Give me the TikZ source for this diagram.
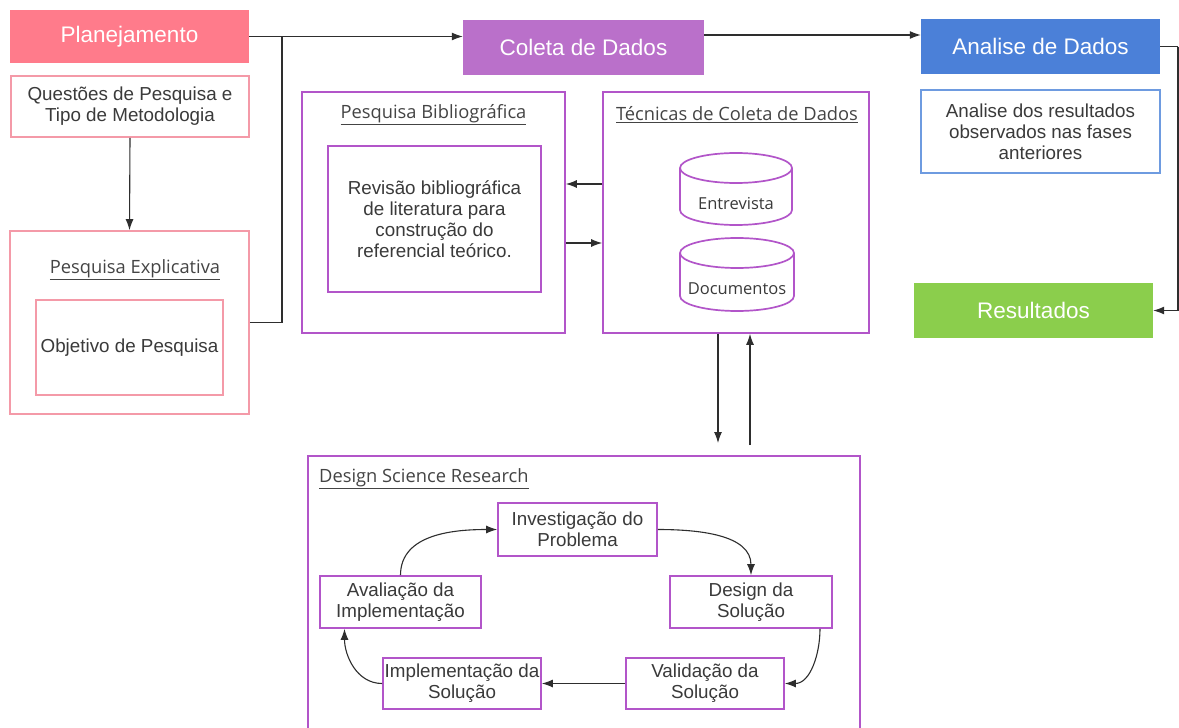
\documentclass[tikz,border=0pt]{standalone}
\usepackage{fontspec}
\setmainfont{Liberation Sans}
\newfontfamily\osans{Open Sans}
\usetikzlibrary{arrows.meta}
\definecolor{pinkfill}{HTML}{FF7B8B}
\definecolor{pinkline}{HTML}{F49AA8}
\definecolor{purpfill}{HTML}{BA70CA}
\definecolor{purpline}{HTML}{B255C9}
\definecolor{bluefill}{HTML}{4B80D8}
\definecolor{blueline}{HTML}{6E9BE0}
\definecolor{greenfill}{HTML}{8BCE4C}
\definecolor{txt}{HTML}{3A3A3A}
\definecolor{ttl}{HTML}{444444}
\definecolor{conn}{HTML}{2E2E2E}
\begin{document}
\begin{tikzpicture}[x=1pt,y=-1pt,
  hdr/.style={inner sep=0pt, text=white, font=\fontsize{22.5}{26}\selectfont},
  box/.style={draw, line width=1.7pt, inner sep=0pt, align=center, text=txt, font=\fontsize{18.8}{21}\selectfont},
  pinkbox/.style={box, draw=pinkline},
  purpbox/.style={box, draw=purpline},
  bluebox/.style={box, draw=blueline},
  ttlnode/.style={inner sep=0pt, text=ttl, font=\osans\fontsize{18.3}{21}\selectfont},
  cyl/.style={draw=purpline, line width=1.7pt},
  cyltext/.style={inner sep=0pt, text=txt, font=\osans\fontsize{16.5}{20}\selectfont},
  arr/.style={draw=conn, line width=1.1pt, -{Latex[length=11pt,width=8pt]}},
  ln/.style={draw=conn, line width=1.1pt}
]
\useasboundingbox (0,0) rectangle (1179,728);
\clip (0,0) rectangle (1179,728);
\fill[white] (0,0) rectangle (1179,728);

% Planejamento column
\node[hdr, fill=pinkfill, minimum width=239, minimum height=53] (plan) at (129.5,36.5) {Planejamento};
\node[pinkbox, minimum width=238, minimum height=61] (quest) at (130,106.5) {Questões de Pesquisa e\\Tipo de Metodologia};
\node[pinkbox, minimum width=239, minimum height=183] (pe) at (129.5,322.5) {};
\node[ttlnode] (pet) at (135,270) {\underline{Pesquisa Explicativa}};
\node[pinkbox, minimum width=187, minimum height=95] (obj) at (129.5,347.5) {Objetivo de Pesquisa};

% Coleta column
\node[hdr, fill=purpfill, minimum width=241, minimum height=55] (coleta) at (583.5,47.5) {Coleta de Dados};
\node[purpbox, minimum width=263, minimum height=241] (pb) at (433.5,212.5) {};
\node[ttlnode] (pbt) at (433.5,115) {\underline{Pesquisa Bibliográfica}};
\node[purpbox, minimum width=213, minimum height=146] (rev) at (434.5,219) {Revisão bibliográfica\\de literatura para\\construção do\\referencial teórico.};
\node[purpbox, minimum width=266, minimum height=241] (tec) at (736,212.5) {};
\node[ttlnode] (tect) at (737,115) {\underline{Técnicas de Coleta de Dados}};

% cylinders
\draw[cyl] (680,168) -- (680,210) arc[start angle=180, end angle=0, x radius=56, y radius=15] -- (792,168);
\draw[cyl] (736,168) ellipse[x radius=56, y radius=15];
\node[cyltext] (ent) at (736,204) {Entrevista};
\draw[cyl] (680,253) -- (680,296) arc[start angle=180, end angle=0, x radius=57, y radius=15] -- (794,253);
\draw[cyl] (737,253) ellipse[x radius=57, y radius=15];
\node[cyltext] (doc) at (737,289) {Documentos};

% Analise column
\node[hdr, fill=bluefill, minimum width=239, minimum height=55] (analise) at (1040.5,46.5) {Analise de Dados};
\node[bluebox, minimum width=239, minimum height=83] (anbox) at (1040.5,131.5) {Analise dos resultados\\observados nas fases\\anteriores};
\node[hdr, fill=greenfill, minimum width=239, minimum height=55] (result) at (1033.5,310.5) {Resultados};

% DSR
\node[purpbox, minimum width=552, minimum height=290] (dsr) at (584,601) {};
\node[ttlnode, anchor=west] (dsrt) at (319,479) {\underline{Design Science Research}};
\node[purpbox, minimum width=159, minimum height=53] (inv) at (577.5,529.5) {Investigação do\\Problema};
\node[purpbox, minimum width=162, minimum height=52] (des) at (751,602) {Design da\\Solução};
\node[purpbox, minimum width=158, minimum height=51] (val) at (705,683.5) {Validação da\\Solução};
\node[purpbox, minimum width=158, minimum height=51] (imp) at (462,683.5) {Implementação da\\Solução};
\node[purpbox, minimum width=161, minimum height=52] (ava) at (400.5,602) {Avaliação da\\Implementação};

% connectors top
\coordinate (j1) at (282,36.5);
\draw[ln] (pe.east) -| (j1);
\draw[arr] (plan.east) -- (coleta.west |- plan.east);
\draw[arr] (coleta.east |- 0,35) -- (analise.west |- 0,35);
\coordinate (j2) at (1178,46.5);
\draw[ln] (analise.east) -- (j2);
\draw[arr] (j2) |- (result.east);
\draw[arr] (quest.south) -- (pe.north);
\draw[arr] (tec.west |- 0,184) -- (pb.east |- 0,184);
\draw[arr] (pb.east |- 0,243) -- (tec.west |- 0,243);
\coordinate (d1) at (718,443);
\coordinate (u1) at (750,445);
\draw[arr] (tec.south -| d1) -- (d1);
\draw[arr] (u1) -- (tec.south -| u1);

% DSR cycle
\draw[arr] (inv.east) to[out=0, in=90] (des.north);
\draw[arr] ([xshift=69pt]des.south) to[out=-90, in=0] (val.east);
\draw[arr] (val.west) -- (imp.west -| imp.east);
\draw[arr] (imp.west) to[out=180, in=-90] ([xshift=-56pt]ava.south);
\draw[arr] (ava.north) to[out=90, in=180] (inv.west);
\end{tikzpicture}
\end{document}
